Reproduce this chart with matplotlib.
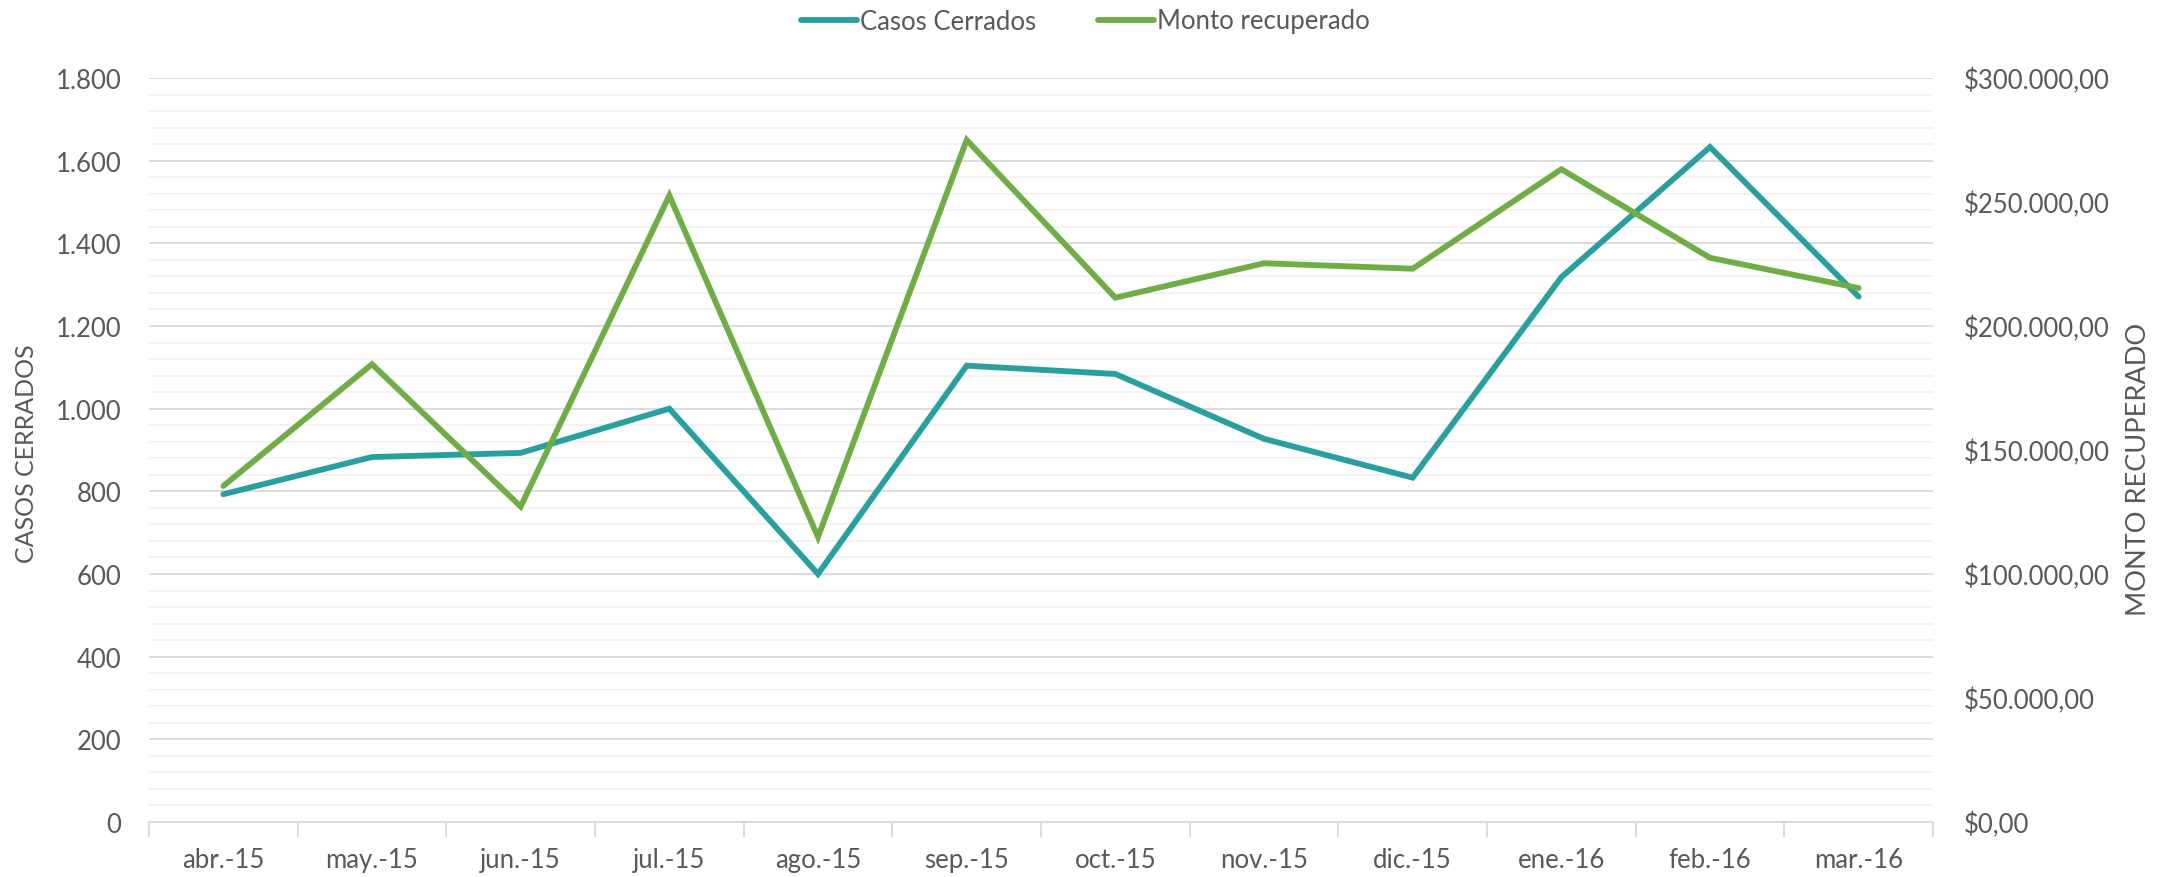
import matplotlib
matplotlib.use("Agg")
import matplotlib.pyplot as plt
import numpy as np
from matplotlib.ticker import FuncFormatter, MultipleLocator, FixedLocator

months = ["abr.-15", "may.-15", "jun.-15", "jul.-15", "ago.-15", "sep.-15",
          "oct.-15", "nov.-15", "dic.-15", "ene.-16", "feb.-16", "mar.-16"]
casos_cerrados = [793, 883, 893, 1000, 600, 1104, 1084, 927, 833, 1318, 1633, 1271]
monto_recuperado = [135500, 184600, 127200, 252600, 114900, 275000, 211400,
                    225300, 223100, 263200, 227500, 215300]

TEAL = "#2A9FA0"
GREEN = "#70AD47"
TXT = "#595959"
FONT = "Lato"

plt.rcParams['font.family'] = [FONT, 'DejaVu Sans']

W, H = 2170, 878
fig = plt.figure(figsize=(W / 100, H / 100), dpi=100)
L, R, T, B = 149, 1933, 79, 823
ax = fig.add_axes([L / W, 1 - B / H, (R - L) / W, (B - T) / H])
ax2 = ax.twinx()

x = np.arange(len(months))
l1, = ax.plot(x, casos_cerrados, color=TEAL, lw=4.2, solid_capstyle='round',
              solid_joinstyle='miter', zorder=3, label="Casos Cerrados")
l2, = ax2.plot(x, monto_recuperado, color=GREEN, lw=4.2, solid_capstyle='round',
               solid_joinstyle='miter', zorder=3, label="Monto recuperado")

ax.set_xlim(-0.5, len(months) - 0.5)
ax.set_ylim(0, 1800)
ax2.set_ylim(0, 300000)

# gridlines
ax.yaxis.set_major_locator(MultipleLocator(200))
ax.yaxis.set_minor_locator(MultipleLocator(40))
ax.grid(which='major', axis='y', color='#D9D9D9', lw=1.3, zorder=0)
ax.grid(which='minor', axis='y', color='#F2F2F2', lw=1.3, zorder=0)
ax.set_axisbelow(True)

def fmt_left(v, p):
    return f"{int(v):,}".replace(",", ".")
ax.yaxis.set_major_formatter(FuncFormatter(fmt_left))

ax2.yaxis.set_major_locator(MultipleLocator(50000))
def fmt_right(v, p):
    return "$" + f"{int(v):,}".replace(",", ".") + ",00"
ax2.yaxis.set_major_formatter(FuncFormatter(fmt_right))

ax.set_xticks(x)
ax.set_xticklabels(months)
ax.xaxis.set_minor_locator(FixedLocator(np.arange(-0.5, len(months), 1)))
ax.tick_params(axis='x', which='major', length=0, pad=18, labelsize=18.5, labelcolor=TXT)
ax.tick_params(axis='x', which='minor', length=11, width=1.3, color='#D9D9D9')
ax.tick_params(axis='y', which='both', length=0, pad=20, labelsize=18.5, labelcolor=TXT)
ax2.tick_params(axis='y', which='both', length=0, pad=22, labelsize=18.5, labelcolor=TXT)

for a in (ax, ax2):
    for s in a.spines.values():
        s.set_visible(False)
ax.spines['bottom'].set_visible(True)
ax.spines['bottom'].set_color('#D9D9D9')
ax.spines['bottom'].set_linewidth(1.3)

fig.text(26 / W, 1 - 454 / H, "CASOS CERRADOS", rotation=90, ha='center', va='center',
         fontsize=18, color=TXT)
fig.text(2138 / W, 1 - 469 / H, "MONTO RECUPERADO", rotation=90, ha='center', va='center',
         fontsize=19.5, color=TXT)

leg = fig.legend(handles=[l1, l2], loc='center', bbox_to_anchor=(0.5, 1 - 22 / H),
                 ncol=2, frameon=False, fontsize=18.5, labelcolor=TXT,
                 handlelength=2.2, handletextpad=0.1, columnspacing=2.4)

fig.savefig("out.png", dpi=100, facecolor='white')
